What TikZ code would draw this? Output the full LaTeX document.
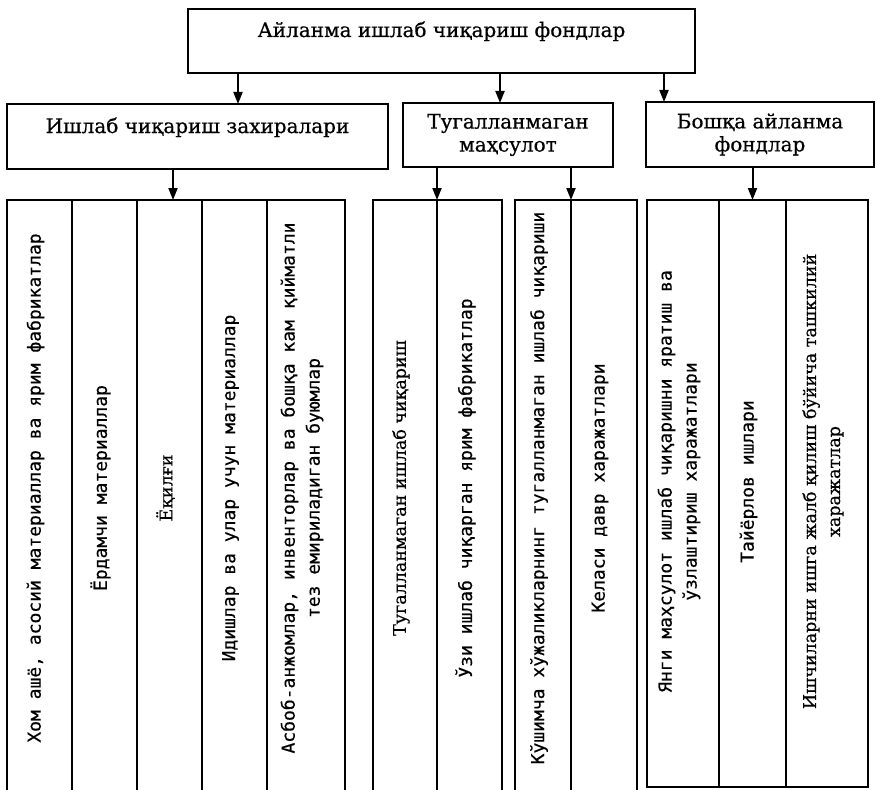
\documentclass[tikz,border=0pt]{standalone}
\usepackage{fontspec}
\setmainfont{DejaVu Serif}[FakeBold=0.6]
\newfontfamily\monofnt{DejaVu Sans Mono}[FakeBold=0.4]
\usetikzlibrary{arrows.meta,positioning}

\begin{document}
\begin{tikzpicture}[
  x=1pt, y=-1pt,
  font=\fontsize{20}{23}\selectfont,
  >={Triangle[length=12pt,width=9pt]},
  box/.style={draw, line width=2pt, align=center, inner sep=0pt, outer sep=0pt},
  colbox/.style={draw, line width=2pt, inner sep=0pt, outer sep=0pt, minimum height=600pt, anchor=north west},
  coltext/.style={xshift=-4pt, yshift=12pt, rotate=90, align=center, inner sep=0pt, font=\monofnt\fontsize{18}{25}\selectfont},
  colserif/.style={coltext, font=\fontsize{17.5}{24}\selectfont},
  arr/.style={->, line width=2pt}
]
\useasboundingbox (0,0) rectangle (877,789);

% top level
\node[box, minimum width=507pt, text height=28pt, text depth=36pt] (top) at (441.5,41) {Айланма ишлаб чиқариш фондлар};

% second level
\node[box, minimum width=381pt, text height=29pt, text depth=36pt] (zax) at (197.5,136.5) {Ишлаб чиқариш захиралари};
\node[box, minimum width=210pt, minimum height=64pt] (tug) at (508,135) {Тугалланмаган\\ маҳсулот};
\node[box, minimum width=228pt, minimum height=65pt] (bosh) at (760,134.5) {Бошқа айланма\\ фондлар};

\draw[arr] (238,0 |- top.south) -- (238,0 |- zax.north);
\draw[arr] (500,0 |- top.south) -- (500,0 |- tug.north);
\draw[arr] (664,0 |- top.south) -- (664,0 |- bosh.north);

% columns of the first group
\node[colbox, minimum width=65pt] (g1a) at (7,200) {};
\node[colbox, minimum width=65pt, right=0pt of g1a] (g1b) {};
\node[colbox, minimum width=65pt, right=0pt of g1b] (g1c) {};
\node[colbox, minimum width=65pt, right=0pt of g1c] (g1d) {};
\node[colbox, minimum width=78pt, right=0pt of g1d] (g1e) {};

% columns under the second box
\node[colbox, minimum width=64pt] (g2a) at (373,200) {};
\node[colbox, minimum width=65pt, right=0pt of g2a] (g2b) {};
\node[colbox, minimum width=56pt] (g2c) at (515,200) {};
\node[colbox, minimum width=66pt, right=0pt of g2c] (g2d) {};

% columns under the third box
\node[colbox, minimum width=72pt, minimum height=587pt] (g3a) at (647,200) {};
\node[colbox, minimum width=67pt, minimum height=587pt, right=0pt of g3a] (g3b) {};
\node[colbox, minimum width=82pt, minimum height=587pt, right=0pt of g3b] (g3c) {};

\draw[arr] (173,0 |- zax.south) -- (173,0 |- g1c.north);
\draw[arr] (g2a.north east |- tug.south) -- (g2a.north east);
\draw[arr] (g2c.north east |- tug.south) -- (g2c.north east);
\draw[arr] (g3b.north |- bosh.south) -- (g3b.north);

% texts in the columns
\node[coltext] (t1a) at (g1a) {Хом ашё, асосий материаллар ва ярим фабрикатлар};
\node[coltext] (t1b) at (g1b) {Ёрдамчи материаллар};
\node[colserif] (t1c) at (g1c) {Ёқилғи};
\node[coltext] (t1d) at (g1d) {Идишлар ва улар учун материаллар};
\node[coltext] (t1e) at (g1e) {Асбоб-анжомлар, инвенторлар ва бошқа кам қийматли\\ тез емириладиган буюмлар};
\node[colserif] (t2a) at (g2a) {Тугалланмаган ишлаб чиқариш};
\node[coltext] (t2b) at (g2b) {Ўзи ишлаб чиқарган ярим фабрикатлар};
\node[coltext] (t2c) at (g2c) {Кўшимча хўжаликларнинг тугалланмаган ишлаб чиқариши};
\node[coltext] (t2d) at (g2d) {Келаси давр харажатлари};
\node[coltext] (t3a) at (g3a) {Янги маҳсулот ишлаб чиқаришни яратиш ва\\ ўзлаштириш харажатлари};
\node[coltext] (t3b) at (g3b) {Тайёрлов ишлари};
\node[colserif] (t3c) at (g3c) {Ишчиларни ишга жалб қилиш бўйича ташкилий\\ харажатлар};
\end{tikzpicture}
\end{document}
